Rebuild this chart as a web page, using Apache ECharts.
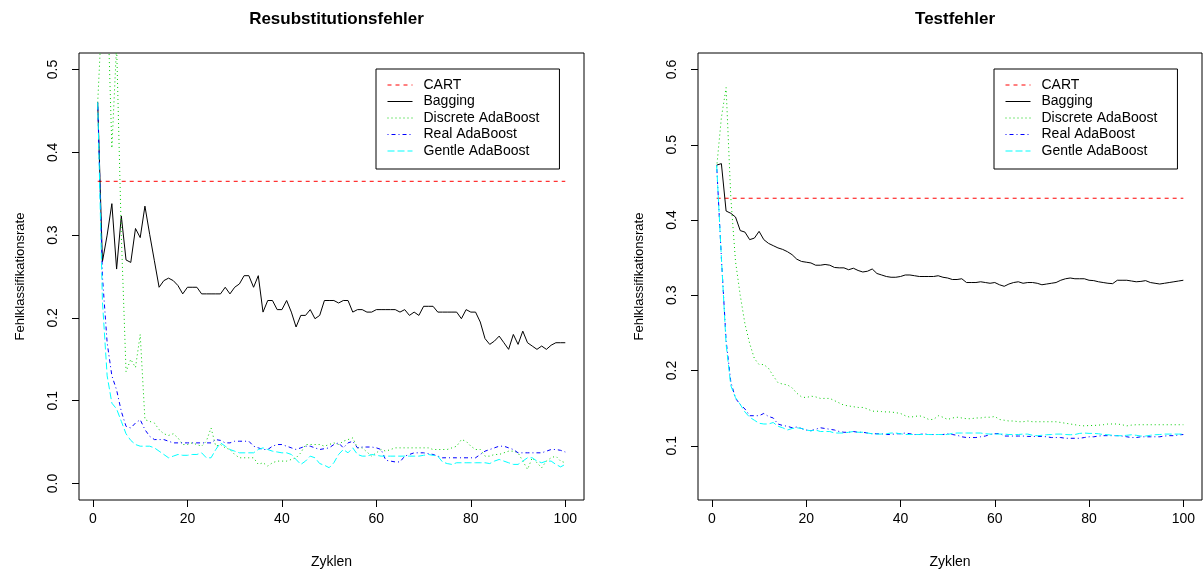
<!DOCTYPE html>
<html>
<head>
<meta charset="utf-8">
<script src="https://cdn.jsdelivr.net/npm/echarts@6/dist/echarts.min.js"></script>
<style>
html,body{margin:0;padding:0;background:#fff;}
#chart{width:1203px;height:574px;}
</style>
</head>
<body>
<div id="chart"></div>
<script>
// ---------- data ----------
const seriesNames = ['CART', 'Bagging', 'Discrete AdaBoost', 'Real AdaBoost', 'Gentle AdaBoost'];
const xTicks = [0, 20, 40, 60, 80, 100];
const yTicksResub = [0, 0.1, 0.2, 0.3, 0.4, 0.5];
const yTicksTest = [0.1, 0.2, 0.3, 0.4, 0.5, 0.6];
const cartResub = 0.365;
const cartTest = 0.429;

const resubBagging = [0.460,0.268,0.300,0.338,0.259,0.323,0.270,0.267,0.308,0.297,
0.335,0.301,0.269,0.237,0.245,0.248,0.245,0.239,0.229,0.237,
0.237,0.237,0.229,0.229,0.229,0.229,0.229,0.237,0.229,0.237,
0.241,0.251,0.251,0.237,0.251,0.207,0.221,0.221,0.210,0.210,
0.221,0.207,0.189,0.203,0.203,0.210,0.199,0.203,0.221,0.221,
0.221,0.218,0.221,0.221,0.207,0.210,0.210,0.207,0.207,0.210,
0.210,0.210,0.210,0.210,0.207,0.210,0.203,0.207,0.203,0.214,
0.214,0.214,0.207,0.207,0.207,0.207,0.207,0.199,0.210,0.207,
0.207,0.195,0.175,0.168,0.172,0.178,0.170,0.162,0.180,0.168,
0.184,0.170,0.166,0.162,0.166,0.162,0.167,0.170,0.170,0.170];

const resubDiscrete = [0.46,0.58,0.60,0.405,0.53,0.30,0.135,0.15,0.14,0.18,
0.077,0.075,0.073,0.065,0.060,0.058,0.060,0.055,0.047,0.047,
0.049,0.047,0.045,0.051,0.067,0.045,0.047,0.043,0.041,0.035,
0.031,0.031,0.031,0.031,0.023,0.025,0.021,0.025,0.027,0.027,
0.027,0.029,0.031,0.037,0.047,0.047,0.047,0.047,0.045,0.047,
0.049,0.047,0.051,0.053,0.055,0.043,0.043,0.038,0.033,0.037,
0.041,0.039,0.041,0.043,0.043,0.043,0.043,0.043,0.043,0.043,
0.043,0.041,0.041,0.041,0.041,0.043,0.045,0.053,0.051,0.045,
0.041,0.041,0.033,0.033,0.035,0.035,0.037,0.039,0.039,0.037,
0.027,0.017,0.031,0.025,0.019,0.027,0.031,0.033,0.027,0.025];

const resubReal = [0.46,0.25,0.17,0.13,0.113,0.087,0.069,0.067,0.073,0.077,
0.065,0.057,0.053,0.053,0.053,0.051,0.049,0.049,0.049,0.049,
0.049,0.049,0.049,0.049,0.049,0.053,0.052,0.049,0.049,0.051,
0.051,0.051,0.051,0.045,0.043,0.041,0.041,0.045,0.047,0.047,
0.045,0.043,0.041,0.043,0.045,0.045,0.043,0.041,0.042,0.043,
0.047,0.049,0.043,0.049,0.051,0.043,0.044,0.044,0.044,0.043,
0.041,0.028,0.027,0.026,0.026,0.033,0.035,0.037,0.037,0.037,
0.036,0.035,0.033,0.031,0.031,0.031,0.031,0.031,0.031,0.031,
0.031,0.035,0.039,0.041,0.043,0.045,0.045,0.043,0.041,0.037,
0.037,0.037,0.037,0.037,0.037,0.039,0.041,0.041,0.040,0.038];

const resubGentle = [0.46,0.22,0.13,0.097,0.09,0.075,0.06,0.052,0.047,0.045,
0.045,0.045,0.043,0.039,0.035,0.031,0.033,0.035,0.034,0.034,
0.035,0.035,0.037,0.031,0.031,0.041,0.049,0.045,0.041,0.039,
0.037,0.037,0.037,0.037,0.041,0.043,0.041,0.039,0.038,0.037,
0.037,0.035,0.029,0.023,0.027,0.033,0.031,0.024,0.022,0.019,
0.025,0.035,0.041,0.037,0.043,0.035,0.033,0.033,0.035,0.034,
0.033,0.033,0.033,0.033,0.033,0.033,0.033,0.033,0.033,0.034,
0.035,0.034,0.033,0.026,0.024,0.023,0.025,0.025,0.025,0.025,
0.025,0.025,0.025,0.024,0.027,0.029,0.027,0.025,0.023,0.023,
0.027,0.031,0.031,0.027,0.025,0.027,0.027,0.023,0.020,0.023];

const testBagging = [0.473,0.475,0.412,0.409,0.404,0.386,0.384,0.374,0.376,0.385,
0.374,0.369,0.366,0.363,0.361,0.358,0.354,0.348,0.345,0.344,
0.343,0.340,0.340,0.341,0.340,0.337,0.3365,0.3365,0.334,0.336,
0.333,0.331,0.332,0.335,0.329,0.327,0.325,0.324,0.324,0.325,
0.327,0.327,0.326,0.325,0.325,0.325,0.325,0.326,0.324,0.323,
0.321,0.321,0.322,0.317,0.317,0.317,0.318,0.317,0.316,0.317,
0.314,0.312,0.315,0.317,0.318,0.316,0.317,0.317,0.316,0.314,
0.315,0.316,0.317,0.320,0.322,0.323,0.322,0.322,0.322,0.320,
0.3195,0.318,0.317,0.316,0.3155,0.320,0.320,0.320,0.319,0.318,
0.3185,0.3195,0.317,0.316,0.315,0.316,0.317,0.318,0.319,0.320];

const testDiscrete = [0.47,0.536,0.576,0.43,0.345,0.30,0.262,0.236,0.216,0.208,
0.208,0.203,0.193,0.184,0.182,0.181,0.177,0.170,0.165,0.164,
0.166,0.165,0.163,0.163,0.163,0.160,0.157,0.154,0.153,0.152,
0.151,0.151,0.149,0.146,0.146,0.1455,0.145,0.145,0.144,0.143,
0.140,0.138,0.139,0.140,0.138,0.135,0.135,0.140,0.138,0.135,
0.137,0.138,0.137,0.136,0.136,0.137,0.137,0.138,0.138,0.139,
0.135,0.134,0.133,0.133,0.132,0.132,0.133,0.132,0.132,0.132,
0.132,0.132,0.132,0.131,0.130,0.129,0.128,0.127,0.1265,0.127,
0.127,0.1275,0.128,0.129,0.129,0.129,0.128,0.1265,0.1275,0.128,
0.128,0.128,0.128,0.128,0.128,0.128,0.128,0.128,0.128,0.128];

const testReal = [0.473,0.35,0.24,0.185,0.163,0.155,0.149,0.140,0.140,0.140,
0.143,0.139,0.137,0.129,0.127,0.126,0.124,0.125,0.123,0.121,
0.120,0.122,0.124,0.123,0.122,0.121,0.119,0.118,0.118,0.119,
0.118,0.118,0.117,0.116,0.116,0.116,0.115,0.115,0.116,0.116,
0.117,0.116,0.115,0.115,0.116,0.115,0.115,0.115,0.115,0.116,
0.115,0.114,0.112,0.111,0.111,0.111,0.112,0.113,0.115,0.116,
0.1165,0.113,0.113,0.113,0.113,0.113,0.1125,0.1125,0.1125,0.1125,
0.112,0.111,0.111,0.111,0.110,0.110,0.110,0.110,0.111,0.112,
0.112,0.113,0.1135,0.1135,0.1135,0.1135,0.113,0.112,0.111,0.111,
0.112,0.112,0.112,0.112,0.112,0.113,0.1135,0.1135,0.1145,0.115];

const testGentle = [0.473,0.35,0.235,0.18,0.164,0.155,0.145,0.138,0.134,0.130,
0.129,0.129,0.131,0.126,0.124,0.121,0.123,0.124,0.123,0.121,
0.120,0.121,0.119,0.119,0.119,0.117,0.117,0.117,0.118,0.119,
0.118,0.118,0.117,0.116,0.1156,0.1156,0.116,0.117,0.117,0.116,
0.115,0.115,0.115,0.115,0.115,0.115,0.115,0.115,0.115,0.115,
0.1165,0.117,0.117,0.117,0.117,0.117,0.117,0.116,0.1156,0.1156,
0.1156,0.1156,0.115,0.115,0.115,0.1156,0.1156,0.114,0.1134,0.114,
0.1147,0.115,0.1156,0.1156,0.115,0.1147,0.115,0.1165,0.117,0.1165,
0.1165,0.116,0.115,0.1147,0.114,0.1134,0.1134,0.114,0.1147,0.114,
0.113,0.113,0.114,0.1147,0.115,0.1156,0.1156,0.1156,0.1156,0.1156];

// ---------- styles ----------
const FONT = '"Liberation Sans", Arial, Helvetica, sans-serif';
const styles = {
  'CART': {color: '#FF0000', type: [4, 4]},
  'Bagging': {color: '#000000', type: 'solid'},
  'Discrete AdaBoost': {color: '#00CD00', type: [1, 3]},
  'Real AdaBoost': {color: '#0000FF', type: [1, 3, 4, 3]},
  'Gentle AdaBoost': {color: '#00FFFF', type: [7, 3]}
};

function pairs(arr) { return arr.map((v, i) => [i + 1, v]); }

function mkSeries(name, data, idx) {
  return {
    name: name, type: 'line', xAxisIndex: idx, yAxisIndex: idx,
    data: data, showSymbol: false, symbol: 'none', clip: true,
    color: styles[name].color,
    lineStyle: {color: styles[name].color, width: 1, type: styles[name].type},
    emphasis: {disabled: true}, silent: true
  };
}

const panels = [
  {title: 'Resubstitutionsfehler', left: 79, width: 505, ymin: -0.02, ymax: 0.52, yticks: yTicksResub,
   cart: cartResub, bag: resubBagging, dis: resubDiscrete, real: resubReal, gen: resubGentle, legendLeft: 376},
  {title: 'Testfehler', left: 698, width: 504, ymin: 0.028, ymax: 0.622, yticks: yTicksTest,
   cart: cartTest, bag: testBagging, dis: testDiscrete, real: testReal, gen: testGentle, legendLeft: 994}
];

const option = {
  animation: false,
  backgroundColor: '#ffffff',
  textStyle: {fontFamily: FONT},
  title: panels.map(p => ({
    text: p.title, left: p.left + p.width / 2, top: 6, textAlign: 'center',
    textStyle: {fontFamily: FONT, fontSize: 17, fontWeight: 'bold', color: '#000'}
  })),
  legend: panels.map(p => ({
    data: seriesNames, orient: 'vertical', left: p.legendLeft, top: 69,
    itemWidth: 25, itemHeight: 14, itemGap: 2.5,
    padding: [9, 20, 11, 11],
    borderColor: '#000', borderWidth: 1, backgroundColor: '#fff',
    selectedMode: false,
    itemStyle: {opacity: 0, borderWidth: 0},
    lineStyle: {width: 1},
    textStyle: {fontFamily: FONT, fontSize: 14, color: '#000', lineHeight: 14, padding: [0, 0, 0, 6]}
  })),
  grid: panels.map(p => ({
    left: p.left, top: 53, width: p.width, height: 449, show: true,
    borderColor: '#000', borderWidth: 1, backgroundColor: 'transparent', containLabel: false
  })),
  xAxis: panels.map((p, i) => ({
    type: 'value', gridIndex: i, min: -2.96, max: 103.96, position: 'bottom',
    name: 'Zyklen', nameLocation: 'middle', nameGap: 55,
    nameTextStyle: {fontFamily: FONT, fontSize: 14, color: '#000'},
    axisLine: {show: false, onZero: false},
    axisTick: {show: true, inside: false, customValues: xTicks, length: 7, lineStyle: {color: '#000'}},
    axisLabel: {show: true, customValues: xTicks, margin: 12, fontFamily: FONT, fontSize: 14, color: '#000'},
    splitLine: {show: false}
  })),
  yAxis: panels.map((p, i) => ({
    type: 'value', gridIndex: i, min: p.ymin, max: p.ymax, position: 'left',
    name: 'Fehlklassifikationsrate', nameLocation: 'middle', nameGap: 52, nameRotate: 90,
    nameTextStyle: {fontFamily: FONT, fontSize: 13, color: '#000'},
    axisLine: {show: false, onZero: false},
    axisTick: {show: true, inside: false, customValues: p.yticks, length: 7, lineStyle: {color: '#000'}},
    axisLabel: {show: true, customValues: p.yticks, rotate: 90, margin: 19, fontFamily: FONT, fontSize: 14, color: '#000',
      formatter: v => v.toFixed(1)},
    splitLine: {show: false}
  })),
  series: []
};

panels.forEach((p, i) => {
  option.series.push(mkSeries('CART', [[1, p.cart], [100, p.cart]], i));
  option.series.push(mkSeries('Bagging', pairs(p.bag), i));
  option.series.push(mkSeries('Discrete AdaBoost', pairs(p.dis), i));
  option.series.push(mkSeries('Real AdaBoost', pairs(p.real), i));
  option.series.push(mkSeries('Gentle AdaBoost', pairs(p.gen), i));
});

const chart = echarts.init(document.getElementById('chart'), null, {renderer: 'canvas'});
chart.setOption(option);
</script>
</body>
</html>
